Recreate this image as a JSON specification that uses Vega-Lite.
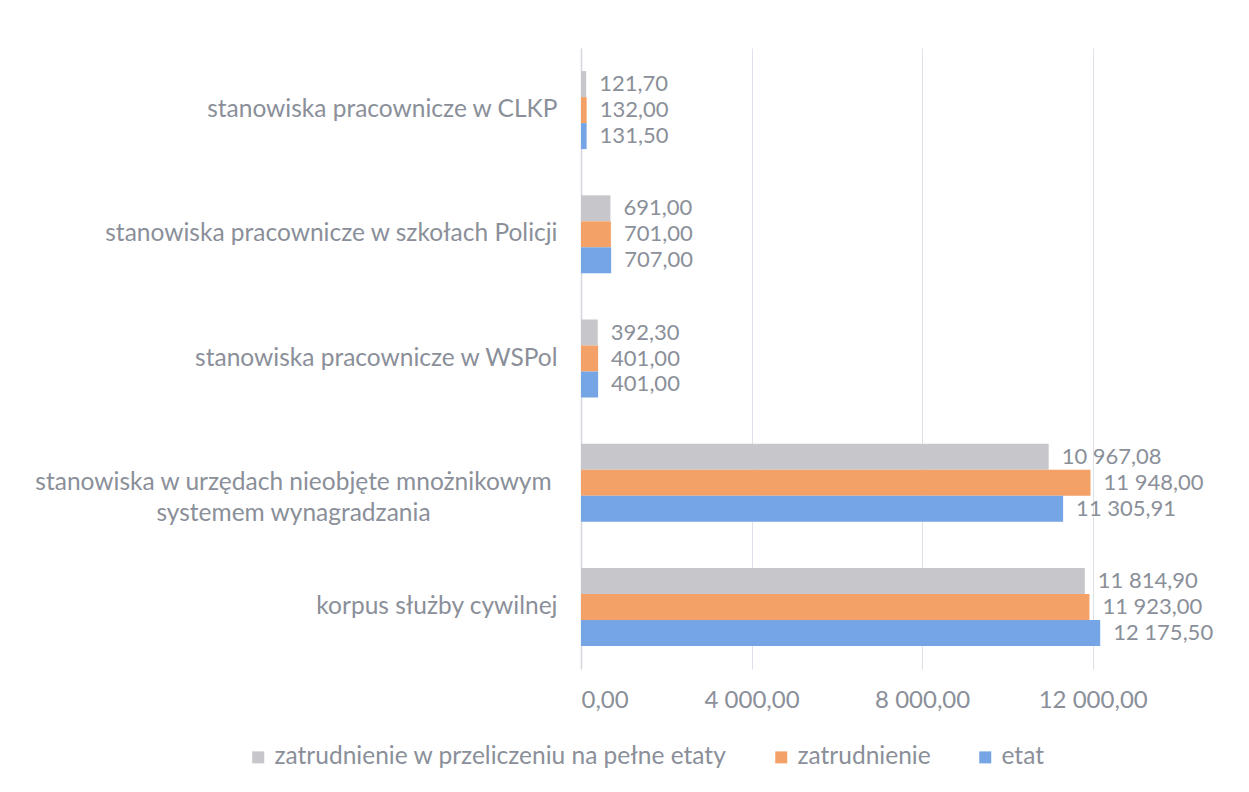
{
  "$schema": "https://vega.github.io/schema/vega-lite/v6.json",
  "autosize": "none",
  "width": 597,
  "height": 621,
  "padding": {"left": 581, "top": 48, "right": 71, "bottom": 123},
  "background": "#ffffff",
  "config": {
    "locale": {"number": {"decimal": ",", "thousands": " ", "grouping": [3], "currency": ["", ""]}},
    "view": {"stroke": null},
    "font": "Lato"
  },
  "data": {
    "values": [
      {"category": "stanowiska pracownicze w CLKP", "series": "zatrudnienie w przeliczeniu na pełne etaty", "value": 121.70},
      {"category": "stanowiska pracownicze w CLKP", "series": "zatrudnienie", "value": 132.00},
      {"category": "stanowiska pracownicze w CLKP", "series": "etat", "value": 131.50},
      {"category": "stanowiska pracownicze w szkołach Policji", "series": "zatrudnienie w przeliczeniu na pełne etaty", "value": 691.00},
      {"category": "stanowiska pracownicze w szkołach Policji", "series": "zatrudnienie", "value": 701.00},
      {"category": "stanowiska pracownicze w szkołach Policji", "series": "etat", "value": 707.00},
      {"category": "stanowiska pracownicze w WSPol", "series": "zatrudnienie w przeliczeniu na pełne etaty", "value": 392.30},
      {"category": "stanowiska pracownicze w WSPol", "series": "zatrudnienie", "value": 401.00},
      {"category": "stanowiska pracownicze w WSPol", "series": "etat", "value": 401.00},
      {"category": "stanowiska w urzędach nieobjęte mnożnikowym systemem wynagradzania", "series": "zatrudnienie w przeliczeniu na pełne etaty", "value": 10967.08},
      {"category": "stanowiska w urzędach nieobjęte mnożnikowym systemem wynagradzania", "series": "zatrudnienie", "value": 11948.00},
      {"category": "stanowiska w urzędach nieobjęte mnożnikowym systemem wynagradzania", "series": "etat", "value": 11305.91},
      {"category": "korpus służby cywilnej", "series": "zatrudnienie w przeliczeniu na pełne etaty", "value": 11814.90},
      {"category": "korpus służby cywilnej", "series": "zatrudnienie", "value": 11923.00},
      {"category": "korpus służby cywilnej", "series": "etat", "value": 12175.50}
    ]
  },
  "encoding": {
    "y": {
      "field": "category",
      "type": "nominal",
      "sort": [
        "stanowiska pracownicze w CLKP",
        "stanowiska pracownicze w szkołach Policji",
        "stanowiska pracownicze w WSPol",
        "stanowiska w urzędach nieobjęte mnożnikowym systemem wynagradzania",
        "korpus służby cywilnej"
      ],
      "scale": {"paddingInner": 0.372, "paddingOuter": 0.186},
      "axis": {
        "title": null,
        "ticks": false,
        "domain": true,
        "domainColor": "#d3d7dd",
        "domainWidth": 1.5,
        "grid": false,
        "labelFontSize": 24.5,
        "labelColor": "#8a8f99",
        "labelLimit": 700,
        "labelExpr": "indexof(datum.label, 'mnożnikowym') > 0 ? ['stanowiska w urzędach nieobjęte mnożnikowym', 'systemem wynagradzania'] : datum.label",
        "labelAlign": {"condition": {"test": "indexof(datum.value, 'mnożnikowym') > 0", "value": "center"}, "value": "right"},
        "labelPadding": {"condition": {"test": "indexof(datum.value, 'mnożnikowym') > 0", "value": 288}, "value": 24},
        "labelLineHeight": 31
      }
    },
    "x": {
      "field": "value",
      "type": "quantitative",
      "scale": {"domain": [0, 14000], "nice": false},
      "axis": {
        "title": null,
        "values": [0, 4000, 8000, 12000],
        "format": ",.2f",
        "ticks": false,
        "domain": false,
        "grid": true,
        "gridColor": "#dde2ea",
        "labelFontSize": 24,
        "labelColor": "#8a8f99",
        "labelPadding": 19
      }
    },
    "yOffset": {
      "field": "series",
      "type": "nominal",
      "sort": ["zatrudnienie w przeliczeniu na pełne etaty", "zatrudnienie", "etat"],
      "scale": {"paddingInner": 0, "paddingOuter": 0}
    }
  },
  "layer": [
    {
      "mark": {"type": "bar"},
      "encoding": {
        "color": {
          "field": "series",
          "type": "nominal",
          "scale": {
            "domain": ["zatrudnienie w przeliczeniu na pełne etaty", "zatrudnienie", "etat"],
            "range": ["#c6c6cb", "#f4a167", "#76a5e5"]
          },
          "legend": {
            "title": null,
            "orient": "none",
            "direction": "horizontal",
            "legendX": -335,
            "legendY": 697,
            "symbolType": "square",
            "symbolSize": 144,
            "symbolStrokeWidth": 0,
            "labelFontSize": 24.5,
            "labelColor": "#8a8f99",
            "labelLimit": 600,
            "columnPadding": 42,
            "labelOffset": 4
          }
        }
      }
    },
    {
      "mark": {"type": "text", "align": "left", "baseline": "middle", "dx": 13, "fontSize": 22, "color": "#8a8f99"},
      "encoding": {
        "text": {"field": "value", "type": "quantitative", "format": ",.2f"}
      }
    }
  ]
}
